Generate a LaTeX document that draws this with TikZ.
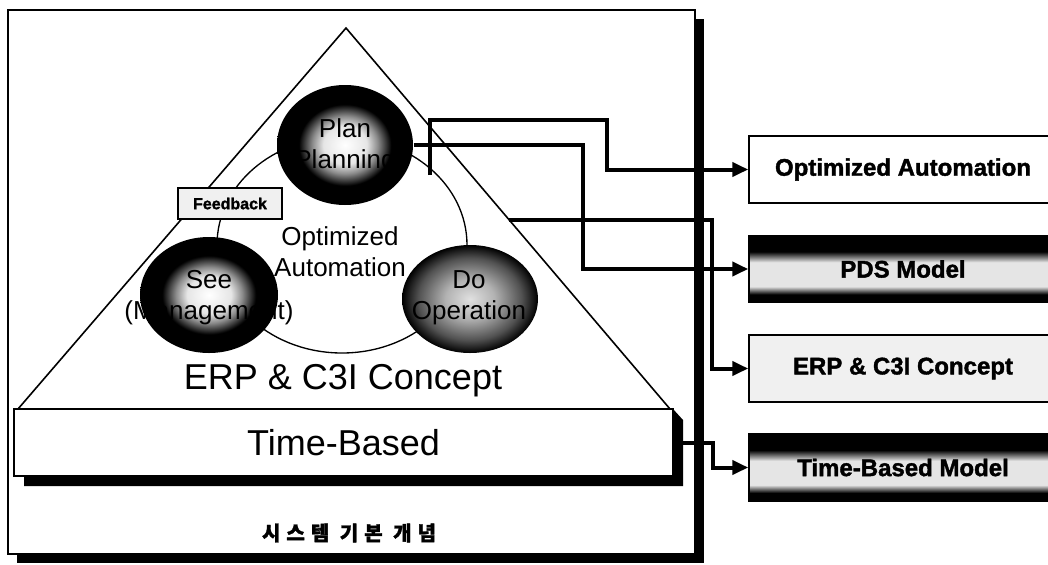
\documentclass[tikz,border=0pt]{standalone}
\usepackage{fontspec}
\setmainfont{Liberation Sans}[BoldFeatures={FakeBold=1.6}]
\newfontfamily\krfont{Noto Sans CJK KR}[LetterSpace=30, BoldFeatures={FakeBold=1.5}]
\usetikzlibrary{shapes.geometric,arrows.meta}

% shadings for the three spheres and the banded boxes
\pgfdeclareradialshading{darkball}{\pgfpoint{0bp}{0bp}}{color(0bp)=(white); color(8bp)=(white!90!black); color(12bp)=(white!55!black); color(17bp)=(black); color(50bp)=(black)}
\pgfdeclareradialshading{greyball}{\pgfpoint{0bp}{0bp}}{color(0bp)=(white!88!black); color(9bp)=(white!70!black); color(19bp)=(black!68); color(25bp)=(black); color(50bp)=(black)}
\pgfdeclareverticalshading{bandfill}{100bp}{color(0bp)=(black); color(31bp)=(black); color(37bp)=(white!90!black); color(55bp)=(white!90!black); color(63bp)=(black); color(100bp)=(black)}

\tikzset{every picture/.style={line width=0.75pt},
  ball/.style={ellipse, inner sep=0pt, shade},
  bigtext/.style={font=\fontsize{27}{30}\selectfont},
  cycletext/.style={font=\fontsize{19.5}{23.25}\selectfont, align=center},
  modelbox/.style={draw, line width=1.1pt, minimum width=231pt, minimum height=50.25pt, font=\bfseries\fontsize{18}{20}\selectfont},
  link/.style={line width=3pt, -{Triangle[length=12pt,width=10.5pt]}}
}

\begin{document}
\begin{tikzpicture}[x=0.75pt,y=0.75pt,yscale=-1]
\useasboundingbox (0,0) rectangle (1048,564);

% outer frame with its shadow
\fill (17,19) rectangle (704,563);
\draw [fill=white, line width=1.2pt] (8,10) rectangle (695,554);

% triangle
\draw [line width=1.2pt] (18,409) -- (346,28) -- (670,409);

% time-based bar
\fill (673,409) -- (683,420) -- (683,486) -- (24,486) -- (24,476) -- cycle;
\draw (343.5,442.5) node (timebase) [draw, fill=white, line width=1.2pt, minimum width=494.25pt, minimum height=50.25pt, bigtext] {Time-Based};

\draw (343,381) node (erptext) [bigtext] {ERP \& C3I Concept};

% PDS cycle
\draw [line width=1pt] (342,245) ellipse (93.75pt and 81pt);
\draw (230,203.5) node (feedback) [draw, fill=gray!12, line width=1pt, minimum width=78pt, minimum height=23.25pt, font=\bfseries\fontsize{12}{14}\selectfont] {Feedback};

\draw (345,145) node (plan) [ball, shading=darkball, minimum width=102pt, minimum height=90pt] {};
\draw (209,295) node (see) [ball, shading=darkball, minimum width=103.5pt, minimum height=87pt] {};
\draw (470,299) node (do) [ball, shading=greyball, minimum width=102pt, minimum height=81pt] {};

\draw (345,146) node (plantext) [cycletext] {Plan\\Planning};
\draw (209,298) node (seetext) [cycletext] {See\\(Management)};
\draw (469,298) node (dotext) [cycletext] {Do\\Operation};
\draw (340,252) node (opttext) [cycletext] {Optimized\\Automation};

\draw (349,533) node (concept) [font=\krfont\bfseries\fontsize{15}{18}\selectfont] {시스템 기본 개념};

% model boxes
\draw (903,169.5) node (optauto) [modelbox, fill=white] {Optimized Automation};
\draw (903,269) node (pds) [modelbox, shade, shading=bandfill] {PDS Model};
\draw (903,368.5) node (erp) [modelbox, fill=gray!12] {ERP \& C3I Concept};
\draw (903,467.5) node (tbmodel) [modelbox, shade, shading=bandfill] {Time-Based Model};

% links
\coordinate (tap) at (430,175);
\coordinate (edge) at (509,220);
\draw [link] (tap) -- ++(0,-55) -- ++(177,0) |- (optauto.west);
\draw [link] (plan.east) -- ++(169,0) |- (pds.west);
\draw [link] (edge) -- ++(203,0) |- (erp.west);
\draw [link] (timebase.east) -- ++(39,0) |- (tbmodel.west);

\end{tikzpicture}
\end{document}
